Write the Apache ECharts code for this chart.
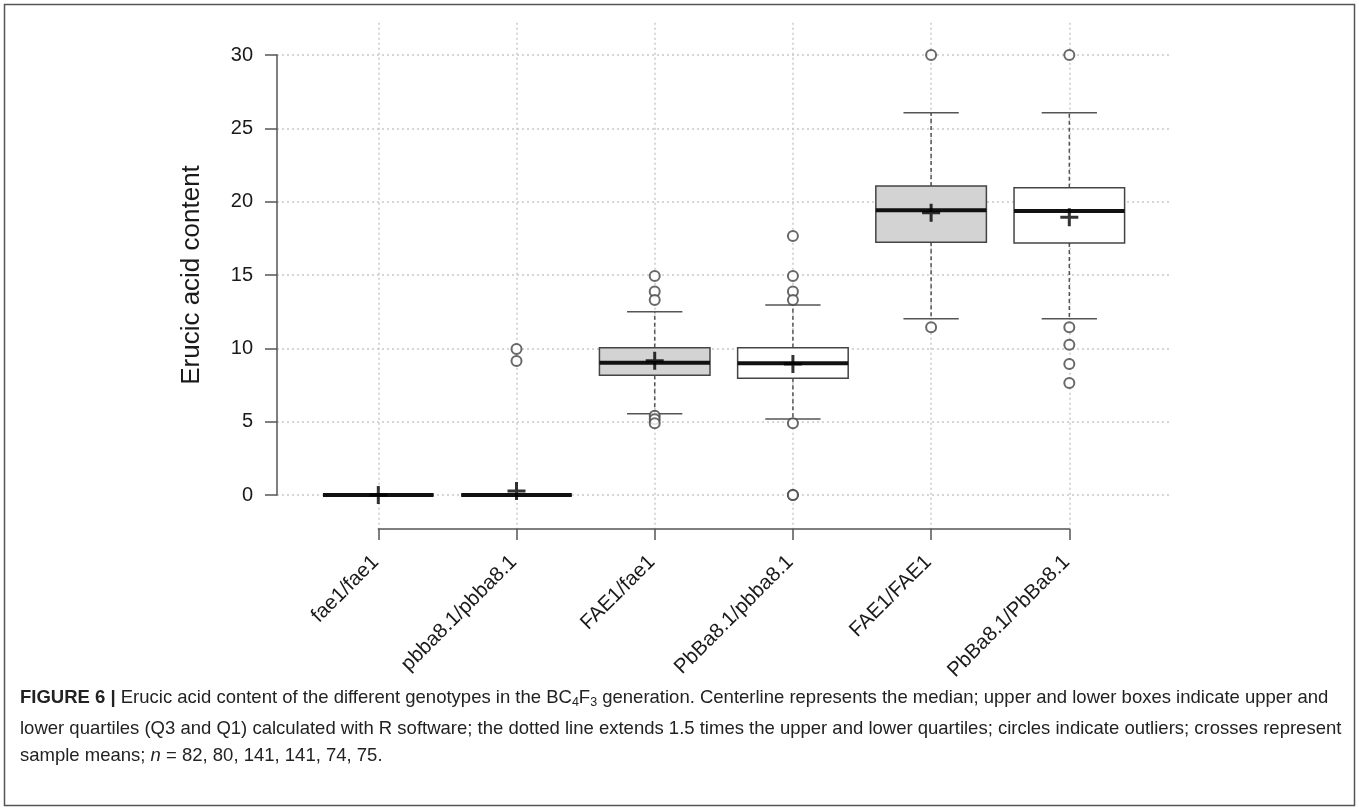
<!DOCTYPE html>
<html>
<head>
<meta charset="utf-8">
<script src="https://cdn.jsdelivr.net/npm/echarts@6/dist/echarts.min.js"></script>
<style>
  html, body { margin: 0; padding: 0; background: #fff; }
  #chart { width: 1359px; height: 810px; }
</style>
</head>
<body>
<div id="chart"></div>
<script>
// ---- data ----
var categories = ['fae1/fae1', 'pbba8.1/pbba8.1', 'FAE1/fae1', 'PbBa8.1/pbba8.1', 'FAE1/FAE1', 'PbBa8.1/PbBa8.1'];
var lowerWhisker = [0, 0, 5.54, 5.18, 12.02, 12.02];
var q1 = [0, 0, 8.16, 7.96, 17.23, 17.18];
var median = [0, 0, 9.02, 8.98, 19.41, 19.36];
var q3 = [0, 0, 10.04, 10.04, 21.07, 20.95];
var upperWhisker = [0, 0, 12.5, 12.95, 26.07, 26.07];
var means = [0, 0.27, 9.16, 8.93, 19.25, 18.93];
var outliers = [
    [],
    [9.95, 9.14],
    [14.93, 13.87, 13.3, 5.41, 5.16, 4.89],
    [17.66, 14.93, 13.87, 13.3, 4.89, 0, 0],
    [30, 11.43],
    [30, 11.43, 10.25, 8.93, 7.64]
];
var yTicks = [0, 5, 10, 15, 20, 25, 30];

var boxFill = ['#d3d3d3', '#ffffff', '#d3d3d3', '#ffffff', '#d3d3d3', '#ffffff'];

var chart = echarts.init(document.getElementById('chart'));

var boxData = categories.map(function (c, i) {
    return [i + 1, lowerWhisker[i], q1[i], median[i], q3[i], upperWhisker[i], i];
});
var meanData = means.map(function (m, i) { return [i + 1, m]; });
var outlierData = [];
outliers.forEach(function (list, i) {
    list.forEach(function (v) { outlierData.push([i + 1, v]); });
});

var gridColor = '#c9c9c9';
var axisColor = '#555';
var font = "'Liberation Sans', Arial, sans-serif";

function renderBox(params, api) {
    var x = api.value(0);
    var w = api.size([0.8, 0])[0];
    var pLw = api.coord([x, api.value(1)]);
    var pQ1 = api.coord([x, api.value(2)]);
    var pMed = api.coord([x, api.value(3)]);
    var pQ3 = api.coord([x, api.value(4)]);
    var pUw = api.coord([x, api.value(5)]);
    var cx = pMed[0];
    var dash = { stroke: axisColor, lineWidth: 1.5, lineDash: [4, 3] };
    var solid = { stroke: axisColor, lineWidth: 1.5 };
    return {
        type: 'group',
        children: [
            { type: 'line', shape: { x1: cx, y1: pQ3[1], x2: cx, y2: pUw[1] }, style: dash },
            { type: 'line', shape: { x1: cx, y1: pQ1[1], x2: cx, y2: pLw[1] }, style: dash },
            { type: 'line', shape: { x1: cx - w / 4, y1: pUw[1], x2: cx + w / 4, y2: pUw[1] }, style: solid },
            { type: 'line', shape: { x1: cx - w / 4, y1: pLw[1], x2: cx + w / 4, y2: pLw[1] }, style: solid },
            {
                type: 'rect',
                shape: { x: cx - w / 2, y: pQ3[1], width: w, height: pQ1[1] - pQ3[1] },
                style: { fill: boxFill[api.value(6)], stroke: '#444', lineWidth: 1.5 }
            },
            { type: 'line', shape: { x1: cx - w / 2, y1: pMed[1], x2: cx + w / 2, y2: pMed[1] }, style: { stroke: '#111', lineWidth: 4 } }
        ]
    };
}

var capStyle = { fontFamily: font, fontSize: 18.5, fill: '#222' };

var option = {
    animation: false,
    backgroundColor: '#fff',
    grid: [
        // vertical gridlines
        { left: 240.1, right: 151.5, top: 22.7, bottom: 281 },
        // main plot
        { left: 277, right: 187, top: 55, bottom: 315 },
        // category axis
        { left: 378.3, right: 289.7, top: 519, bottom: 281 }
    ],
    xAxis: [
        {
            gridIndex: 0, type: 'value', min: 0, max: 7, interval: 1,
            axisLine: { show: false }, axisTick: { show: false }, axisLabel: { show: false },
            splitLine: { show: true, showMinLine: false, showMaxLine: false, lineStyle: { color: gridColor, width: 1.5, type: [2, 3] } }
        },
        {
            gridIndex: 1, type: 'value', min: 0.267, max: 6.743,
            show: false
        },
        {
            gridIndex: 2, type: 'value', min: 1, max: 6, interval: 1, position: 'bottom',
            axisLine: { show: true, lineStyle: { color: axisColor, width: 1.5 } },
            axisTick: { show: true, length: 11, lineStyle: { color: axisColor, width: 1.5 } },
            axisLabel: {
                rotate: 45, margin: 27, fontSize: 20.5, fontFamily: font, color: '#1a1a1a',
                padding: [0, 4, 0, 0],
                showMinLabel: true, showMaxLabel: true,
                formatter: function (v) { return categories[v - 1] || ''; }
            },
            splitLine: { show: false }
        }
    ],
    yAxis: [
        { gridIndex: 0, type: 'value', min: 0, max: 1, show: false },
        {
            gridIndex: 1, type: 'value', min: yTicks[0], max: yTicks[yTicks.length - 1], interval: 5,
            name: 'Erucic acid content', nameLocation: 'middle', nameGap: 72,
            nameTextStyle: { fontSize: 26, fontFamily: font, color: '#1a1a1a' },
            axisLine: { show: true, lineStyle: { color: axisColor, width: 1.5 } },
            axisTick: { show: true, length: 12, lineStyle: { color: axisColor, width: 1.5 } },
            axisLabel: { margin: 24, fontSize: 20, fontFamily: font, color: '#1a1a1a' },
            splitLine: { show: true, lineStyle: { color: gridColor, width: 1.5, type: [2, 3] } }
        },
        { gridIndex: 2, type: 'value', min: 0, max: 1, show: false }
    ],
    series: [
        {
            type: 'custom',
            xAxisIndex: 1, yAxisIndex: 1,
            renderItem: renderBox,
            data: boxData,
            clip: false,
            z: 3
        },
        {
            type: 'scatter',
            xAxisIndex: 1, yAxisIndex: 1,
            data: outlierData,
            symbol: 'emptyCircle',
            symbolSize: 10,
            clip: false,
            itemStyle: { color: '#444', borderColor: '#444', borderWidth: 1.5 },
            z: 4
        },
        {
            type: 'scatter',
            xAxisIndex: 1, yAxisIndex: 1,
            data: meanData,
            symbol: 'path://M7.5,0h3v7.5h7.5v3h-7.5v7.5h-3v-7.5h-7.5v-3h7.5z',
            symbolSize: 18,
            clip: false,
            itemStyle: { color: '#000' },
            z: 5
        }
    ],
    graphic: [
        {
            type: 'rect', silent: true,
            shape: { x: 4.5, y: 4.5, width: 1350, height: 801 },
            style: { fill: 'none', stroke: '#555', lineWidth: 1.5 }
        },
        {
            type: 'text', left: 20, top: 688,
            style: {
                text: '{b|FIGURE 6 |} Erucic acid content of the different genotypes in the BC{sub|4}F{sub|3} generation. Centerline represents the median; upper and lower boxes indicate upper and',
                fontFamily: font, fontSize: 18.5, fill: '#222',
                rich: {
                    b: { fontFamily: font, fontSize: 18.5, fontWeight: 'bold', fill: '#222' },
                    sub: { fontFamily: font, fontSize: 12.5, fill: '#222', padding: [10, 0, 0, 0] }
                }
            }
        },
        {
            type: 'text', left: 20, top: 719,
            style: Object.assign({ text: 'lower quartiles (Q3 and Q1) calculated with R software; the dotted line extends 1.5 times the upper and lower quartiles; circles indicate outliers; crosses represent' }, capStyle)
        },
        {
            type: 'text', left: 20, top: 746,
            style: {
                text: 'sample means; {i|n} = 82, 80, 141, 141, 74, 75.',
                fontFamily: font, fontSize: 18.5, fill: '#222',
                rich: { i: { fontFamily: font, fontSize: 18.5, fontStyle: 'italic', fill: '#222' } }
            }
        }
    ]
};

chart.setOption(option);
</script>
</body>
</html>
